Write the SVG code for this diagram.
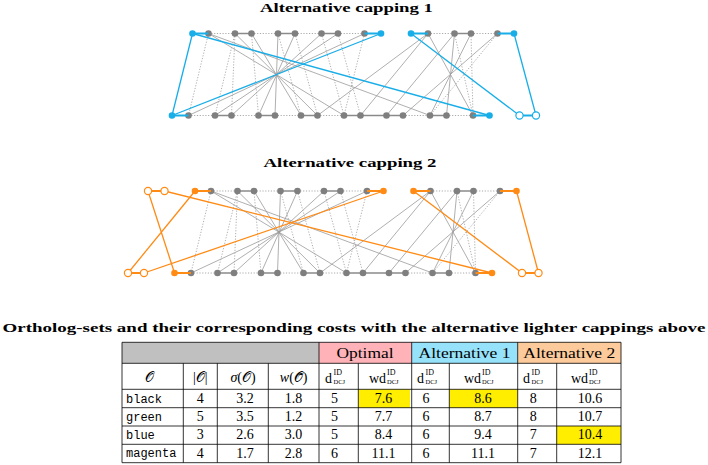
<svg xmlns="http://www.w3.org/2000/svg" xmlns:xlink="http://www.w3.org/1999/xlink" width="708" height="465" viewBox="0 0 708 465">
<style>
.title{font-family:"Liberation Serif","DejaVu Serif",serif;font-weight:bold;font-size:13px;fill:#000}
.gn{fill:#7f7f7f}
.gs{stroke:#8a8a8a;stroke-width:1.6;fill:none}
.gd{stroke:#aaa;stroke-width:1;stroke-dasharray:1.2 1.6;fill:none}
.ve{stroke:#9a9a9a;stroke-width:0.8;fill:none}
.vd{stroke:#a5a5a5;stroke-width:0.9;stroke-dasharray:1.2 1.6;fill:none}
.cy{stroke:#19aee8;stroke-width:1.3;fill:none}
.cyh{stroke:#19aee8;stroke-width:1.8;fill:none}
.cyn{fill:#19aee8}
.cyo{fill:#fff;stroke:#19aee8;stroke-width:1.2}
.or{stroke:#ff8a14;stroke-width:1.3;fill:none}
.orh{stroke:#ff8a14;stroke-width:1.8;fill:none}
.orn{fill:#ff8a14}
.oro{fill:#fff;stroke:#ff8a14;stroke-width:1.2}
.tb{stroke:#000;stroke-width:0.8;fill:none}
.t{font-family:"Liberation Serif","DejaVu Serif",serif;font-size:14px;fill:#000}
.m{font-family:"Liberation Mono","DejaVu Sans Mono",monospace;font-size:12px;fill:#000}
.sup{font-family:"Liberation Serif","DejaVu Serif",serif;font-size:8px;fill:#000}
.sub{font-family:"Liberation Serif","DejaVu Serif",serif;font-size:6.5px;fill:#000}
</style>
<defs>
<g id="base">
  <g id="rowlines">
    <path class="gd" d="M208.5 33.5H235M251.5 33.5H278M295 33.5H321.5M338 33.5H364.5M428 33.5H454.5M471 33.5H497.5"/>
    <path class="gs" d="M235 33.5H251.5M278 33.5H295M321.5 33.5H338M454.5 33.5H471"/>
    <path class="gd" d="M188.5 115.5H215M231.5 115.5H258.5M275 115.5H301M317.5 115.5H344M403 115.5H430M446.5 115.5H473"/>
    <path class="gs" d="M215 115.5H231.5M258.5 115.5H275M301 115.5H317.5M344 115.5H386.5H403M430 115.5H446.5"/>
  </g>
  <g id="grayedges">
    <path class="ve" d="M208.5 33.5L344 115.5M235 33.5L317.5 115.5M251.5 33.5L301 115.5M278 33.5L275 115.5M295 33.5L258.5 115.5M321.5 33.5L231.5 115.5M338 33.5L215 115.5M364.5 33.5L188.5 115.5M428 33.5L473 115.5M454.5 33.5L446.5 115.5M471 33.5L430 115.5M497.5 33.5L403 115.5M208.5 33.5L430 115.5M428 33.5L360.5 115.5M428 33.5L317.5 115.5M454.5 33.5L386.5 115.5"/>
    <path class="vd" d="M208.5 33.5L188.5 115.5M235 33.5L215 115.5M235 33.5L231.5 115.5M251.5 33.5L258.5 115.5M278 33.5L301 115.5M295 33.5L317.5 115.5M321.5 33.5L344 115.5M338 33.5L360.5 115.5M364.5 33.5L344 115.5M454.5 33.5L473 115.5M471 33.5L473 115.5M497.5 33.5L430 115.5"/>
  </g>
  <g id="graynodes" class="gn">
    <circle cx="208.5" cy="33.5" r="3.3"/><circle cx="235" cy="33.5" r="3.3"/><circle cx="251.5" cy="33.5" r="3.3"/><circle cx="278" cy="33.5" r="3.3"/><circle cx="295" cy="33.5" r="3.3"/><circle cx="321.5" cy="33.5" r="3.3"/><circle cx="338" cy="33.5" r="3.3"/><circle cx="364.5" cy="33.5" r="3.3"/><circle cx="428" cy="33.5" r="3.3"/><circle cx="454.5" cy="33.5" r="3.3"/><circle cx="471" cy="33.5" r="3.3"/><circle cx="497.5" cy="33.5" r="3.3"/>
    <circle cx="188.5" cy="115.5" r="3.3"/><circle cx="215" cy="115.5" r="3.3"/><circle cx="231.5" cy="115.5" r="3.3"/><circle cx="258.5" cy="115.5" r="3.3"/><circle cx="275" cy="115.5" r="3.3"/><circle cx="301" cy="115.5" r="3.3"/><circle cx="317.5" cy="115.5" r="3.3"/><circle cx="344" cy="115.5" r="3.3"/><circle cx="360.5" cy="115.5" r="3.3"/><circle cx="386.5" cy="115.5" r="3.3"/><circle cx="403" cy="115.5" r="3.3"/><circle cx="430" cy="115.5" r="3.3"/><circle cx="446.5" cy="115.5" r="3.3"/><circle cx="473" cy="115.5" r="3.3"/>
  </g>
</g>
</defs>

<text class="title" x="346.5" y="12" text-anchor="middle" textLength="173" lengthAdjust="spacingAndGlyphs">Alternative capping 1</text>
<g id="capping1">
  <use xlink:href="#base" href="#base"/>
  <g id="cyan-edges">
    <path class="cyh" d="M192.5 33.5H208.5M364.5 33.5H381M411 33.5H428M497.5 33.5H514M172 115.5H188.5M473 115.5H489.5M519.5 115.5H536"/>
    <path class="cy" d="M192.5 33.5L172 115.5M192.5 33.5L489.5 115.5M172 115.5L381 33.5M411 33.5L519.5 115.5M514 33.5L536 115.5"/>
  </g>
  <g id="cyan-nodes">
    <circle class="cyn" cx="192.5" cy="33.5" r="3.3"/><circle class="cyn" cx="381" cy="33.5" r="3.3"/><circle class="cyn" cx="411" cy="33.5" r="3.3"/><circle class="cyn" cx="514" cy="33.5" r="3.3"/>
    <circle class="cyn" cx="172" cy="115.5" r="3.3"/><circle class="cyn" cx="489.5" cy="115.5" r="3.3"/>
    <circle class="cyo" cx="519.5" cy="115.5" r="3.6"/><circle class="cyo" cx="536" cy="115.5" r="3.6"/>
  </g>
</g>

<text class="title" x="350" y="166.5" text-anchor="middle" textLength="173" lengthAdjust="spacingAndGlyphs">Alternative capping 2</text>
<g id="capping2" transform="translate(2.5,157.5)">
  <use xlink:href="#base" href="#base"/>
  <g id="orange-edges">
    <path class="orh" d="M192.5 33.5H208.5M364.5 33.5H381M411 33.5H428M497.5 33.5H514M172 115.5H188.5M473 115.5H489.5M519.5 115.5H536M145.5 33.5H162M125.5 115.5H141.5"/>
    <path class="or" d="M145.5 33.5L172 115.5M162 33.5L489.5 115.5M125.5 115.5L192.5 33.5M141.5 115.5L381 33.5M411 33.5L519.5 115.5M514 33.5L536 115.5"/>
  </g>
  <g id="orange-nodes">
    <circle class="orn" cx="192.5" cy="33.5" r="3.3"/><circle class="orn" cx="381" cy="33.5" r="3.3"/><circle class="orn" cx="411" cy="33.5" r="3.3"/><circle class="orn" cx="514" cy="33.5" r="3.3"/>
    <circle class="orn" cx="172" cy="115.5" r="3.3"/><circle class="orn" cx="489.5" cy="115.5" r="3.3"/>
    <circle class="oro" cx="519.5" cy="115.5" r="3.6"/><circle class="oro" cx="536" cy="115.5" r="3.6"/>
    <circle class="oro" cx="145.5" cy="33.5" r="3.6"/><circle class="oro" cx="162" cy="33.5" r="3.6"/>
    <circle class="oro" cx="125.5" cy="115.5" r="3.6"/><circle class="oro" cx="141.5" cy="115.5" r="3.6"/>
  </g>
</g>

<text class="title" x="354" y="331.5" text-anchor="middle" textLength="703" lengthAdjust="spacingAndGlyphs">Ortholog-sets and their corresponding costs with the alternative lighter cappings above</text>

<g id="table">
  <rect x="122" y="342.3" width="197" height="21" fill="#c0c0c0"/>
  <rect x="319" y="342.3" width="92.7" height="21" fill="#ffb3b8"/>
  <rect x="411.7" y="342.3" width="106" height="21" fill="#96e2fb"/>
  <rect x="517.7" y="342.3" width="103.3" height="21" fill="#fdcb9b"/>
  <rect x="358.3" y="389.3" width="51.7" height="18.4" fill="#ffee00"/>
  <rect x="449.3" y="389.3" width="68.4" height="18.4" fill="#ffee00"/>
  <rect x="556.7" y="426" width="64.3" height="18.3" fill="#ffee00"/>
  <path class="tb" d="M122 342.3H621M122 363.3H621M122 389.3H621M122 407.7H621M122 426H621M122 444.3H621M122 462.7H621M122 342.3V462.7M621 342.3V462.7M319 342.3V462.7M411.7 342.3V462.7M517.7 342.3V462.7M183.3 363.3V462.7M217.3 363.3V462.7M268.3 363.3V462.7M358.3 363.3V462.7M449.3 363.3V462.7M556.7 363.3V462.7"/>
  <text class="t" x="365" y="357.5" text-anchor="middle" textLength="57" lengthAdjust="spacingAndGlyphs">Optimal</text>
  <text class="t" x="464.5" y="357.5" text-anchor="middle" textLength="92" lengthAdjust="spacingAndGlyphs">Alternative 1</text>
  <text class="t" x="569.3" y="357.5" text-anchor="middle" textLength="92" lengthAdjust="spacingAndGlyphs">Alternative 2</text>
  <text class="t" x="145" y="381.5">𝒪</text>
  <text class="t" x="200.3" y="381.5" text-anchor="middle">|𝒪|</text>
  <text class="t" x="243" y="381.5" text-anchor="middle"><tspan font-style="italic">σ</tspan>(𝒪)</text>
  <text class="t" x="293.7" y="381.5" text-anchor="middle"><tspan font-style="italic">w</tspan>(𝒪̃)</text>
  <g id="dhead">
    <text class="t" x="325" y="383.3">d</text><text class="sup" x="333.5" y="375">ID</text><text class="sub" x="333.5" y="384">DCJ</text>
    <text class="t" x="369" y="383.3">wd</text><text class="sup" x="387" y="375">ID</text><text class="sub" x="387" y="384">DCJ</text>
    <text class="t" x="417" y="383.3">d</text><text class="sup" x="425.5" y="375">ID</text><text class="sub" x="425.5" y="384">DCJ</text>
    <text class="t" x="464" y="383.3">wd</text><text class="sup" x="482" y="375">ID</text><text class="sub" x="482" y="384">DCJ</text>
    <text class="t" x="523" y="383.3">d</text><text class="sup" x="531.5" y="375">ID</text><text class="sub" x="531.5" y="384">DCJ</text>
    <text class="t" x="571" y="383.3">wd</text><text class="sup" x="589" y="375">ID</text><text class="sub" x="589" y="384">DCJ</text>
  </g>
  <g id="rows">
    <text class="m" x="126" y="402.5">black</text><text class="m" x="126" y="420.8">green</text><text class="m" x="126" y="439.1">blue</text><text class="m" x="126" y="457.4">magenta</text>
    <g class="t" text-anchor="middle">
      <text x="200.3" y="402.7">4</text><text x="245" y="402.7">3.2</text><text x="293.5" y="402.7">1.8</text><text x="334.5" y="402.7">5</text><text x="383.5" y="402.7">7.6</text><text x="426" y="402.7">6</text><text x="483" y="402.7">8.6</text><text x="533.3" y="402.7">8</text><text x="590" y="402.7">10.6</text>
      <text x="200.3" y="421">5</text><text x="245" y="421">3.5</text><text x="293.5" y="421">1.2</text><text x="334.5" y="421">5</text><text x="383.5" y="421">7.7</text><text x="426" y="421">6</text><text x="483" y="421">8.7</text><text x="533.3" y="421">8</text><text x="590" y="421">10.7</text>
      <text x="200.3" y="439.3">3</text><text x="245" y="439.3">2.6</text><text x="293.5" y="439.3">3.0</text><text x="334.5" y="439.3">5</text><text x="383.5" y="439.3">8.4</text><text x="426" y="439.3">6</text><text x="483" y="439.3">9.4</text><text x="533.3" y="439.3">7</text><text x="590" y="439.3">10.4</text>
      <text x="200.3" y="457.6">4</text><text x="245" y="457.6">1.7</text><text x="293.5" y="457.6">2.8</text><text x="334.5" y="457.6">6</text><text x="383.5" y="457.6">11.1</text><text x="426" y="457.6">6</text><text x="483" y="457.6">11.1</text><text x="533.3" y="457.6">7</text><text x="590" y="457.6">12.1</text>
    </g>
  </g>
</g>
</svg>
